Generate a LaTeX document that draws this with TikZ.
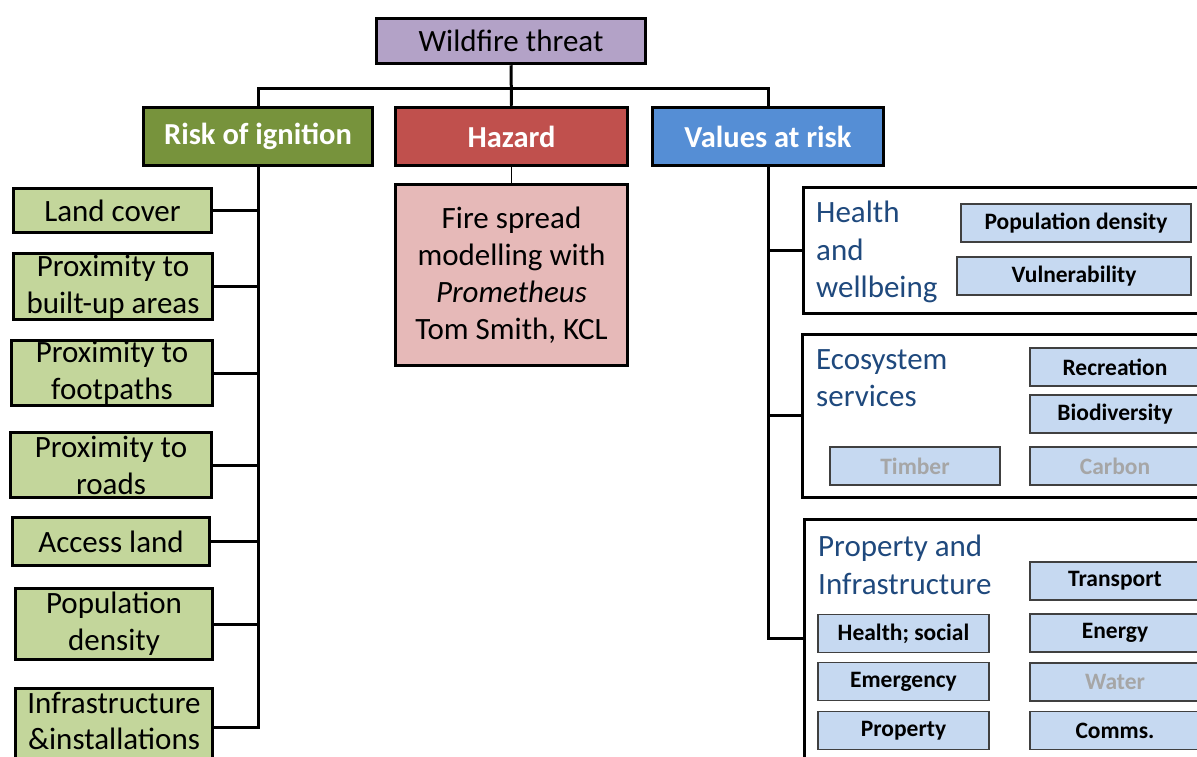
\documentclass[tikz,border=0pt]{standalone}
\usepackage{fontspec}
\setmainfont{Carlito}
\definecolor{cpurple}{HTML}{B3A2C7}
\definecolor{cgreen}{HTML}{77933C}
\definecolor{cred}{HTML}{C0504D}
\definecolor{cblue}{HTML}{558ED5}
\definecolor{cpink}{HTML}{E6B9B8}
\definecolor{clgreen}{HTML}{C3D69B}
\definecolor{clblue}{HTML}{C6D9F1}
\definecolor{ctitle}{HTML}{1F497D}
\definecolor{cgray}{HTML}{A6A6A6}
\definecolor{csborder}{HTML}{404040}
\tikzset{
  bigbox/.style={draw=black, line width=3.5pt, inner sep=0pt, align=center, font=\fontsize{31}{37}\selectfont},
  headbox/.style={bigbox, text=white, font=\fontsize{30.5}{37}\selectfont\bfseries},
  gbox/.style={bigbox, fill=clgreen},
  panel/.style={draw=black, line width=3pt, fill=white, inner sep=0pt},
  ptitle/.style={anchor=north west, inner sep=0pt, align=left, text=ctitle, font=\fontsize{31}{37.5}\selectfont},
  sbox/.style={draw=csborder, line width=1.3pt, fill=clblue, inner sep=0pt, minimum height=38pt, font=\fontsize{23.5}{26}\selectfont\bfseries},
  graytext/.style={text=cgray},
  conn/.style={draw=black, line width=3pt},
}
\begin{document}
\begin{tikzpicture}[x=1pt,y=-1pt]
\useasboundingbox (0,0) rectangle (1197,756);
\clip (0,0) rectangle (1197,756);
% top level
\node[bigbox, fill=cpurple, minimum width=269pt, minimum height=45pt] (wild) at (511,41) {Wildfire threat};
\node[headbox, fill=cgreen, minimum width=229pt, minimum height=58pt] (risk) at (258,136.5) {\raisebox{-2pt}{Risk of ignition}};
\node[headbox, fill=cred, minimum width=232pt, minimum height=58pt] (haz) at (511.5,136.5) {Hazard};
\node[headbox, fill=cblue, minimum width=231pt, minimum height=58pt] (val) at (768,136.5) {Values at risk};
\node[bigbox, fill=cpink, minimum width=232pt, minimum height=181pt] (hazd) at (511.5,275) {Fire spread\\modelling with\\\textit{Prometheus}\\Tom Smith, KCL};
% left column
\node[gbox, minimum width=198pt, minimum height=44pt] (land) at (112.5,210.5) {Land cover};
\node[gbox, minimum width=199pt, minimum height=66pt] (built) at (113,286.5) {Proximity to\\built-up areas};
\node[gbox, minimum width=201pt, minimum height=65pt] (foot) at (112,373) {Proximity to\\footpaths};
\node[gbox, minimum width=201pt, minimum height=65pt] (roads) at (111,465) {Proximity to\\roads};
\node[gbox, minimum width=197pt, minimum height=48pt] (access) at (111,541.5) {Access land};
\node[gbox, minimum width=197pt, minimum height=71pt] (pop) at (114,624) {Population\\density};
\node[gbox, minimum width=197pt, minimum height=78pt] (infra) at (114,727.5) {};
\node[inner sep=0pt, align=center, font=\fontsize{31}{36}\selectfont] (infratext) at (114,721) {Infrastructure\\\&installations};
% connectors top
\coordinate (bus) at (511,88);
\draw[conn] (wild.south) -- (haz.north);
\draw[conn] (risk.north) -- (risk.north |- bus) -- (val.north |- bus) -- (val.north);
\draw[draw=black, line width=1pt] (haz.south) -- (hazd.north);
% left connectors
\draw[conn] (risk.south) -- (risk.south |- infra.east) -- (infra.east);
\foreach \n in {land,built,foot,roads,access,pop}
  \draw[conn] (\n.east) -- (\n.east -| risk.south);
% panels
\node[panel, minimum width=420pt, minimum height=126pt] (health) at (1013,250) {};
\node[panel, minimum width=420pt, minimum height=163pt] (eco) at (1012,415.5) {};
\node[panel, minimum width=420pt, minimum height=280pt] (prop) at (1014,659) {};
\coordinate (vbot) at (768,638);
\draw[conn] (val.south) -- (vbot) -- (prop.west |- vbot);
\draw[conn] (val.south |- health.west) -- (health.west);
\draw[conn] (val.south |- eco.west) -- (eco.west);
% panel titles
\node[ptitle] (thealth) at (816,201) {Health\\and\\wellbeing};
\node[ptitle] (teco) at (816,349) {Ecosystem\\services};
\node[ptitle] (tprop) at (818,535) {Property and\\Infrastructure};
% small boxes
\node[sbox, minimum width=230pt] (pd) at (1076,223) {Population density};
\node[sbox, minimum width=234pt] (vul) at (1074,276) {Vulnerability};
\node[sbox, minimum width=170pt] (rec) at (1115,367) {Recreation};
\node[sbox, minimum width=170pt] (bio) at (1115,414) {Biodiversity};
\node[sbox, graytext, minimum width=170pt] (timber) at (915,466) {Timber};
\node[sbox, graytext, minimum width=170pt] (carbon) at (1115,466) {Carbon};
\node[sbox, minimum width=170pt] (transport) at (1115,581) {Transport};
\node[sbox, minimum width=171pt] (hs) at (903.5,633.5) {Health; social};
\node[sbox, minimum width=170pt] (energy) at (1115,633) {Energy};
\node[sbox, minimum width=171pt] (emerg) at (903.5,681.5) {Emergency};
\node[sbox, graytext, minimum width=170pt] (water) at (1115,682) {Water};
\node[sbox, minimum width=171pt] (property) at (903.5,730.5) {Property};
\node[sbox, minimum width=170pt] (comms) at (1115,730.5) {Comms.};
\end{tikzpicture}
\end{document}
